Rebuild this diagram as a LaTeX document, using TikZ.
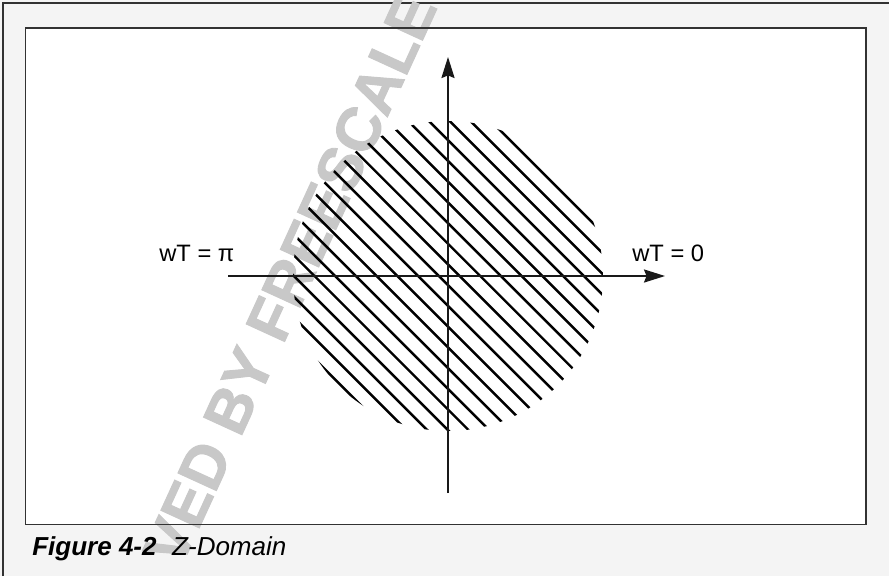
\documentclass[tikz,border=0pt]{standalone}
\usepackage{fontspec}
\setmainfont{Liberation Sans}
\newfontfamily\markfont[FakeBold=1.5]{Liberation Sans Bold}
\usetikzlibrary{arrows.meta, calc}
\definecolor{pagegray}{RGB}{244, 244, 244}
\definecolor{framegray}{RGB}{50, 50, 50}
\definecolor{markgray}{RGB}{200, 200, 200}

\tikzset{
  axis/.style={line width=0.75pt, color=black!90, -{Stealth[length=12pt, width=7.5pt, inset=1.5pt]}},
  hatchline/.style={line width=1.4pt, black},
  axislabel/.style={font=\fontsize{13.5}{15}\selectfont, inner sep=0pt, anchor=base west},
}

\begin{document}
\begin{tikzpicture}[x=0.02cm, y=-0.02cm]
  \useasboundingbox (0,0) rectangle (889,576);

  % page and frame
  \fill[pagegray] (0,0) rectangle (889,576);
  \draw[framegray, line width=0.75pt] (3,576) -- (3,3) -- (889,3);
  \fill[white] (25.5,28) rectangle (866,524.5);

  % watermark
  \node[markgray, rotate=65.4, inner sep=0pt, font=\fontsize{35}{35}\markfont] (mark) at (290,279) {VED BY FREESCALE};

  \draw[framegray, line width=0.75pt] (25.5,28) rectangle (866,524.5);

  % axes
  \coordinate (origin) at (448,276);
  \coordinate (west) at (228,276);
  \coordinate (east) at (665,276);
  \coordinate (south) at (448,493);
  \coordinate (north) at (448,57);

  % hatched disc
  \begin{scope}
    \clip (origin) circle[radius=155];
    \foreach \k in {0,...,20} {
      \pgfmathsetmacro{\off}{(-153+14.65*\k)*0.7071}
      \draw[hatchline] ($(origin)+(\off-180,-\off-180)$) -- ++(360,360);
    }
  \end{scope}

  \draw[axis] (west) -- (east);
  \draw[axis] (south) -- (north);

  \node[axislabel] (pilabel) at (159,261) {wT = π};
  \node[axislabel] (zerolabel) at (632,261) {wT = 0};

  % caption
  \node[anchor=base west, inner sep=0pt, font=\fontsize{14.8}{16}\selectfont] (caption) at (32,555)
    {\textbf{\textit{Figure 4-2}}\hspace{0.6em}\textit{Z-Domain}};
\end{tikzpicture}
\end{document}
